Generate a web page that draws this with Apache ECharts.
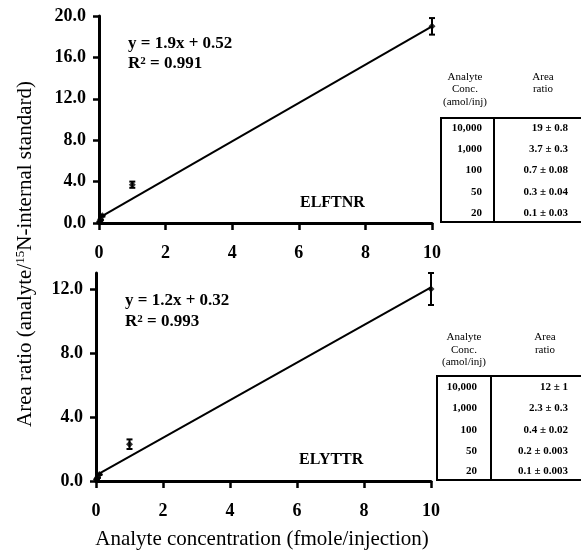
<!DOCTYPE html>
<html>
<head>
<meta charset="utf-8">
<script src="https://cdn.jsdelivr.net/npm/echarts@6/dist/echarts.min.js"></script>
<style>html,body{margin:0;padding:0;background:#fff}#c{width:581px;height:556px}</style>
</head>
<body>
<div id="c"></div>
<script>
// ---- data ----
const conc = [10, 1, 0.1, 0.05, 0.02];
const topRatio = [19, 3.7, 0.7, 0.3, 0.1];
const topErr = [0.8, 0.3, 0.08, 0.04, 0.03];
const botRatio = [12, 2.3, 0.4, 0.2, 0.1];
const botErr = [1, 0.3, 0.02, 0.003, 0.003];
const fitX = [0, 10];
const topFitY = [0.5, 19.0];
const botFitY = [0.35, 12.1];
const xTicks = [0, 2, 4, 6, 8, 10];
const topYTicks = [0, 4, 8, 12, 16, 20];
const botYTicks = [0, 4, 8, 12];
const tableConc = ['10,000', '1,000', '100', '50', '20'];
const topRatioText = ['19 ± 0.8', '3.7 ± 0.3', '0.7 ± 0.08', '0.3 ± 0.04', '0.1 ± 0.03'];
const botRatioText = ['12 ± 1', '2.3 ± 0.3', '0.4 ± 0.02', '0.2 ± 0.003', '0.1 ± 0.003'];
const topEq = ['y = 1.9x + 0.52', '0.991'];
const botEq = ['y = 1.2x + 0.32', '0.993'];
const peptides = ['ELFTNR', 'ELYTTR'];

const FONT = '"Liberation Serif","Times New Roman",serif';
const chart = echarts.init(document.getElementById('c'), null, {renderer: 'canvas'});

function xAxisCfg(gi) {
  return {
    gridIndex: gi, type: 'value', min: 0, max: 10, interval: 2,
    axisLine: {show: true, onZero: false, lineStyle: {color: '#000', width: 3}},
    axisTick: {show: true, inside: false, length: 7, customValues: xTicks, lineStyle: {color: '#000', width: 2.5}},
    axisLabel: {show: true, margin: 21, customValues: xTicks, color: '#000', fontFamily: FONT, fontWeight: 'bold', fontSize: 18},
    splitLine: {show: false}
  };
}
function yAxisCfg(gi, max, ticks) {
  return {
    gridIndex: gi, type: 'value', min: 0, max: max, interval: 4,
    axisLine: {show: true, onZero: false, lineStyle: {color: '#000', width: 3}},
    axisTick: {show: true, length: 6, customValues: ticks, lineStyle: {color: '#000', width: 2.5}},
    axisLabel: {show: true, margin: 13, customValues: ticks, color: '#000', fontFamily: FONT, fontWeight: 'bold', fontSize: 18,
      formatter: v => v.toFixed(1)},
    splitLine: {show: false}
  };
}
function pts(ys) { return conc.map((x, i) => [x, ys[i]]); }
function errData(ys, es) { return conc.map((x, i) => [x, ys[i] - es[i], ys[i] + es[i]]); }
function errRender(params, api) {
  const x = api.value(0);
  const lo = api.coord([x, api.value(1)]);
  const hi = api.coord([x, api.value(2)]);
  const w = 3;
  const st = {stroke: '#000', lineWidth: 2};
  return {type: 'group', children: [
    {type: 'line', shape: {x1: lo[0], y1: lo[1], x2: hi[0], y2: hi[1]}, style: st},
    {type: 'line', shape: {x1: lo[0] - w, y1: lo[1], x2: lo[0] + w, y2: lo[1]}, style: st},
    {type: 'line', shape: {x1: hi[0] - w, y1: hi[1], x2: hi[0] + w, y2: hi[1]}, style: st}
  ]};
}
function fit(ys) { return fitX.map((x, i) => [x, ys[i]]); }

function boldText(x, y, text, size, align) {
  return {type: 'text', x: x, y: y, silent: true,
    style: {text: text, fill: '#000', font: 'bold ' + size + 'px ' + FONT, align: align || 'left', verticalAlign: 'middle'}};
}
function normText(x, y, text, size, align) {
  return {type: 'text', x: x, y: y, silent: true,
    style: {text: text, fill: '#000', font: size + 'px ' + FONT, align: align || 'center', verticalAlign: 'middle'}};
}
function r2Text(x, y, val) {
  return {type: 'text', x: x, y: y, silent: true,
    style: {text: 'R{sup|2} = ' + val, fill: '#000', font: 'bold 17px ' + FONT, align: 'left', verticalAlign: 'middle',
      rich: {sup: {fontSize: 11, fontWeight: 'bold', fontFamily: FONT, verticalAlign: 'top', lineHeight: 11}}}};
}
function table(left, top, bottom, divX, col1Right, colCenter1, colCenter2, headY, rowsY, ratios) {
  const els = [];
  els.push({type: 'polyline', silent: true, shape: {points: [[600, top], [left, top], [left, bottom], [600, bottom]]},
    style: {fill: 'none', stroke: '#000', lineWidth: 2}});
  els.push({type: 'line', silent: true, shape: {x1: divX, y1: top, x2: divX, y2: bottom}, style: {stroke: '#000', lineWidth: 2}});
  els.push(normText(colCenter1, headY[0], 'Analyte', 11));
  els.push(normText(colCenter1, headY[1], 'Conc.', 11));
  els.push(normText(colCenter1, headY[2], '(amol/inj)', 11));
  els.push(normText(colCenter2, headY[0], 'Area', 11));
  els.push(normText(colCenter2, headY[1], 'ratio', 11));
  rowsY.forEach((ry, i) => {
    els.push(boldText(col1Right, ry, tableConc[i], 11, 'right'));
    els.push(boldText(568, ry, ratios[i], 11, 'right'));
  });
  return els;
}

const graphics = [
  boldText(128, 44, topEq[0], 17), r2Text(128, 64, topEq[1]),
  boldText(125, 301, botEq[0], 17), r2Text(125, 322, botEq[1]),
  boldText(300, 203, peptides[0], 16), boldText(299, 460, peptides[1], 16),
  {type: 'text', x: 25, y: 254, rotation: Math.PI / 2, silent: true,
    style: {text: 'Area ratio (analyte/{sup|15}N-internal standard)', fill: '#000', font: '21px ' + FONT,
      align: 'center', verticalAlign: 'middle',
      rich: {sup: {fontSize: 13, fontFamily: FONT, verticalAlign: 'top', lineHeight: 13}}}},
  normText(262, 539, 'Analyte concentration (fmole/injection)', 21, 'center')
].concat(
  table(441, 118, 222, 494, 482, 465, 543, [77, 89, 102], [128, 149, 170, 192, 213], topRatioText),
  table(437, 376, 480, 491, 477, 464, 545, [337, 350, 362], [387, 408, 430, 451, 471], botRatioText)
);

chart.setOption({
  animation: false,
  backgroundColor: '#fff',
  grid: [
    {left: 99, top: 16, width: 333, height: 207, containLabel: false},
    {left: 96, top: 273, width: 335, height: 208, containLabel: false}
  ],
  xAxis: [xAxisCfg(0), xAxisCfg(1)],
  yAxis: [yAxisCfg(0, 20, topYTicks), yAxisCfg(1, 13, botYTicks)],
  series: [
    {type: 'line', xAxisIndex: 0, yAxisIndex: 0, data: fit(topFitY), showSymbol: false, symbol: 'none',
      lineStyle: {color: '#000', width: 2}, silent: true},
    {type: 'line', xAxisIndex: 1, yAxisIndex: 1, data: fit(botFitY), showSymbol: false, symbol: 'none',
      lineStyle: {color: '#000', width: 2}, silent: true},
    {type: 'custom', xAxisIndex: 0, yAxisIndex: 0, data: errData(topRatio, topErr), renderItem: errRender, clip: false, silent: true},
    {type: 'custom', xAxisIndex: 1, yAxisIndex: 1, data: errData(botRatio, botErr), renderItem: errRender, clip: false, silent: true},
    {type: 'scatter', xAxisIndex: 0, yAxisIndex: 0, data: pts(topRatio), symbol: 'diamond', symbolSize: 7,
      itemStyle: {color: '#000'}, silent: true},
    {type: 'scatter', xAxisIndex: 1, yAxisIndex: 1, data: pts(botRatio), symbol: 'diamond', symbolSize: 7,
      itemStyle: {color: '#000'}, silent: true}
  ],
  graphic: graphics
});
</script>
</body>
</html>
